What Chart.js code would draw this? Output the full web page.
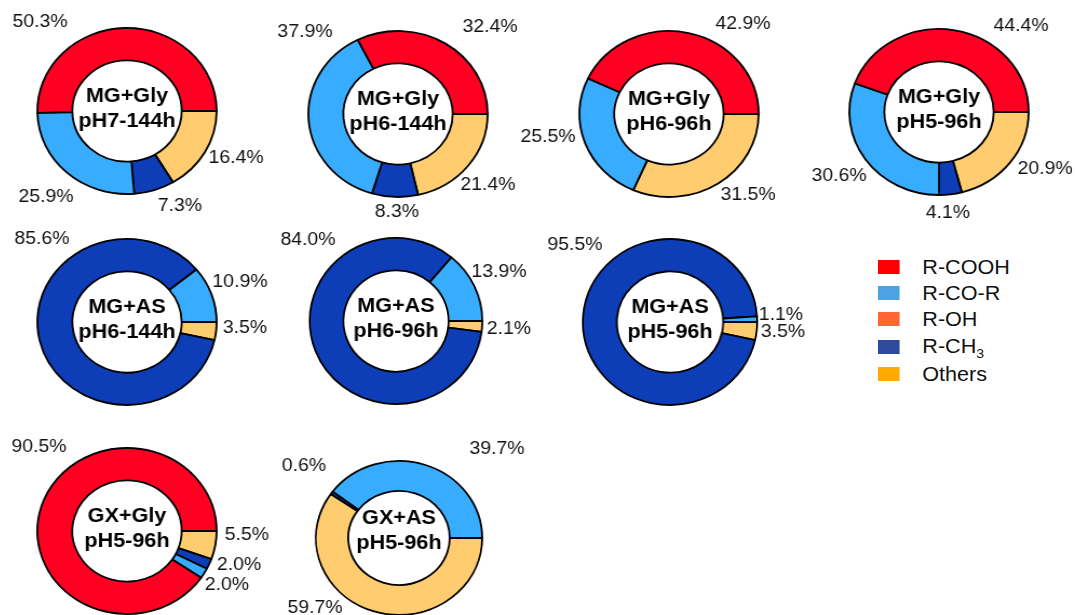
<!DOCTYPE html>
<html>
<head>
<meta charset="utf-8">
<title>Functional groups</title>
<script src="https://cdn.jsdelivr.net/npm/chart.js@4.4.1/dist/chart.umd.min.js"></script>
<style>
  html, body {
    margin: 0;
    padding: 0;
    width: 1075px;
    height: 615px;
    overflow: hidden;
    background: #fff;
    font-family: "Liberation Sans", Arial, sans-serif;
  }
  .ring {
    position: absolute;
    width: 300px;
    height: 236px;
  }
  .ring canvas { display: block; }
  #legend {
    position: absolute;
    left: 878px;
    top: 254px;
    transform-origin: 0 0;
    transform: scaleX(1.08);
    color: #111;
    font-size: 20px;
  }
  #legend .row {
    display: flex;
    align-items: center;
    height: 26px;
  }
  #legend .box {
    width: 20px;
    height: 14px;
    margin-right: 21px;
  }
  #legend sub { font-size: 13px; vertical-align: -5px; line-height: 0; }
</style>
</head>
<body>
<div id="legend"></div>
<script>
const categories = ['R-COOH', 'R-CO-R', 'R-OH', 'R-CH3', 'Others'];
const sampleMix = ['MG+Gly', 'MG+Gly', 'MG+Gly', 'MG+Gly', 'MG+AS', 'MG+AS', 'MG+AS', 'GX+Gly', 'GX+AS'];
const sampleCond = ['pH7-144h', 'pH6-144h', 'pH6-96h', 'pH5-96h', 'pH6-144h', 'pH6-96h', 'pH5-96h', 'pH5-96h', 'pH5-96h'];

// share of each group (%) per sample
const rCOOH  = [50.3, 32.4, 42.9, 44.4, 0, 0, 0, 90.5, 0];
const rCOR   = [25.9, 37.9, 25.5, 30.6, 10.9, 13.9, 1.1, 2.0, 39.7];
const rOH    = [0, 0, 0, 0, 0, 0, 0, 0, 0];
const rCH3   = [7.3, 8.3, 0, 4.1, 85.6, 84.0, 95.5, 2.0, 0.6];
const others = [16.4, 21.4, 31.5, 20.9, 3.5, 2.1, 3.5, 5.5, 59.7];
const series = [rCOOH, rCOR, rOH, rCH3, others];

const sliceColors  = ['#ff0022', '#38adff', '#ff6633', '#0d3eb8', '#ffcd6f'];
const legendColors = ['#ff0000', '#4fa2e0', '#ff6633', '#2e4a9e', '#ffaa00'];

const BOX_W = 300, BOX_H = 236;

// ring centres on the page, size, horizontal stretch and name shift
const centers = [
  [127, 111], [398, 114], [669, 114], [939, 112],
  [127, 322], [396, 321], [670, 322],
  [127, 531], [399, 538]
];
const ringRadius = [83, 83, 83, 83, 83, 83, 83, 83, 77];
const ringSX     = [1.08, 1.08, 1.08, 1.08, 1.08, 1.04, 1.05, 1.08, 1.08];
const nameShift  = [0, 0, 0, 0, 0, 0, 0, 0, -5];

// where each percentage sits, relative to its ring centre (page px)
const labelOffsets = [
  [[-87, -89], [-81, 86], null, [53, 95], [109, 47]],
  [[92, -87], [-93, -82], null, [-1, 98], [90, 71]],
  [[74, -90], [-121, 23], null, null, [79, 81]],
  [[82, -86], [-100, 64], null, [9, 101], [106, 57]],
  [null, [113, -40], null, [-85, -83], [118, 6]],
  [null, [103, -49], null, [-88, -81], [113, 8]],
  [null, [111, -7], null, [-95, -77], [113, 10]],
  [[-88, -84], [100, 54], null, [112, 34], [120, 4]],
  [null, [98, -89], null, [-95, -72], [-84, 70]]
];

// legend
const legendEl = document.getElementById('legend');
categories.forEach((name, k) => {
  const row = document.createElement('div');
  row.className = 'row';
  if (k === 3) row.style.height = '29px';
  const box = document.createElement('span');
  box.className = 'box';
  box.style.background = legendColors[k];
  const txt = document.createElement('span');
  txt.innerHTML = name === 'R-CH3' ? 'R-CH<sub>3</sub>' : name;
  row.appendChild(box);
  row.appendChild(txt);
  legendEl.appendChild(row);
});

// sample name in the hole and the percentages around the ring
const ringText = {
  id: 'ringText',
  afterDatasetsDraw(chart, args, opts) {
    const i = opts.idx;
    const sx = ringSX[i];
    const arc = chart.getDatasetMeta(0).data[0];
    const cx = arc.x, cy = arc.y;
    const ctx = chart.ctx;
    ctx.save();
    ctx.fillStyle = '#000';
    ctx.textAlign = 'center';
    ctx.textBaseline = 'middle';
    // keep the lettering the same width whatever the ring stretch
    ctx.translate(cx, cy);
    ctx.scale(1.08 / sx, 1);
    ctx.font = 'bold 20px "Liberation Sans", Arial, sans-serif';
    ctx.fillText(sampleMix[i], 0, -15 + nameShift[i]);
    ctx.fillText(sampleCond[i], 0, 10 + nameShift[i]);
    ctx.font = '18px "Liberation Sans", Arial, sans-serif';
    ctx.fillStyle = '#111';
    labelOffsets[i].forEach((off, k) => {
      const v = series[k][i];
      if (!off || !v) return;
      ctx.fillText(v.toFixed(1) + '%', off[0] / 1.08, off[1]);
    });
    ctx.restore();
  }
};

centers.forEach(([x, y], i) => {
  const wrap = document.createElement('div');
  wrap.className = 'ring';
  wrap.style.left = (x - BOX_W / 2) + 'px';
  wrap.style.top = (y - BOX_H / 2) + 'px';
  wrap.style.transform = 'scaleX(' + ringSX[i] + ')';
  const canvas = document.createElement('canvas');
  canvas.width = BOX_W;
  canvas.height = BOX_H;
  wrap.appendChild(canvas);
  document.body.appendChild(wrap);

  // Chart.js runs clockwise, the groups go anticlockwise from 3 o'clock
  const values = series.map(s => s[i]).reverse();
  const colors = sliceColors.slice().reverse();

  new Chart(canvas, {
    type: 'doughnut',
    data: {
      labels: categories.slice().reverse(),
      datasets: [{
        data: values,
        backgroundColor: colors,
        borderColor: '#000',
        borderWidth: 1.8,
        radius: ringRadius[i],
        cutout: '61%'
      }]
    },
    options: {
      responsive: false,
      animation: false,
      events: [],
      rotation: 90,
      layout: { padding: 0 },
      plugins: {
        legend: { display: false },
        tooltip: { enabled: false },
        ringText: { idx: i }
      }
    },
    plugins: [ringText]
  });
});
</script>
</body>
</html>
